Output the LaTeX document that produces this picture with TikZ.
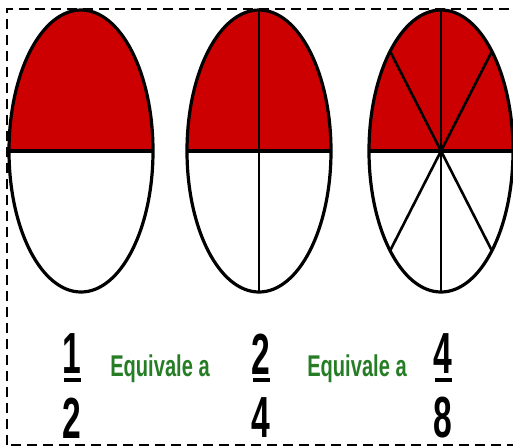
\documentclass[tikz,border=0pt]{standalone}
\usepackage{fontspec}
\setmainfont{Liberation Sans}
\usetikzlibrary{calc}
\definecolor{cHalf}{RGB}{204,0,0}
\definecolor{cWord}{RGB}{38,125,38}
\tikzset{
  rim/.style={line width=1.6pt},
  midline/.style={line width=2.2pt},
  spoke/.style={line width=1.3pt},
  fracbar/.style={line width=2pt},
  digit/.style={font=\bfseries\fontsize{29}{29}\selectfont,xscale=0.58,inner sep=0pt},
  equiv/.style={text=cWord,font=\bfseries\fontsize{15}{15}\selectfont,xscale=0.67,inner sep=0pt,anchor=base west}
}

\begin{document}
\begin{tikzpicture}[x=0.5pt,y=0.5pt]
  \def\rx{72} \def\ry{141} \def\cy{296}
  \useasboundingbox (0,0) rectangle (513,447);
  \clip (0,0) rectangle (513,447);
  \draw[line width=0.75pt,dash pattern=on 5pt off 3pt] (7,2) rectangle (530,438);
  % upper halves in red
  \foreach \cx in {81,259,441}
    \fill[cHalf] (\cx-\rx,\cy) arc[start angle=180,end angle=0,x radius=\rx,y radius=\ry] -- cycle;
  % quarters and eighths
  \draw[spoke] (259,\cy-\ry) -- (259,\cy+\ry);
  \draw[spoke] (441,\cy-\ry) -- (441,\cy+\ry);
  \foreach \t in {45,135}
    \draw[spoke] ($(441,\cy)+({\rx*cos(\t)},{\ry*sin(\t)})$) -- ($(441,\cy)-({\rx*cos(\t)},{\ry*sin(\t)})$);
  \foreach \cx in {81,259,441} {
    \draw[midline] (\cx-\rx,\cy) -- (\cx+\rx,\cy);
    \draw[rim] (\cx,\cy) ellipse[x radius=\rx,y radius=\ry];
  }
  % fractions
  \node[digit] (num1) at (72,93) {1};
  \node[digit] (den1) at (72,29) {2};
  \node[digit] (num2) at (261,93) {2};
  \node[digit] (den2) at (261,29) {4};
  \node[digit] (num3) at (443,93) {4};
  \node[digit] (den3) at (443,29) {8};
  \foreach \i/\bx in {1/72,2/261,3/443}
    \draw[fracbar] (\bx-8.5,67) -- (\bx+8.5,67);
  \node[equiv] (eq1) at (110,71) {Equivale a};
  \node[equiv] (eq2) at (307,71) {Equivale a};
\end{tikzpicture}
\end{document}
